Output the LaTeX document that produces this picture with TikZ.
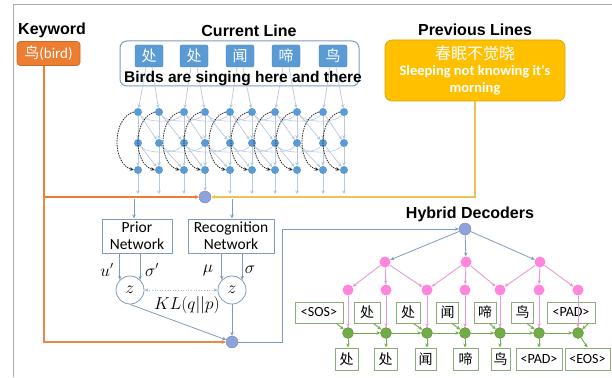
\documentclass[tikz,border=0pt]{standalone}
\usepackage{fontspec}
\setmainfont{Liberation Sans}
\newfontfamily\calfont{Carlito}
\newfontfamily\cjk{Noto Sans CJK SC}
\usetikzlibrary{arrows.meta,calc}
\definecolor{nodeblue}{HTML}{5B9BD5}
\definecolor{lightln}{HTML}{B7C9DD}
\definecolor{orangeK}{HTML}{ED7D31}
\definecolor{goldbox}{HTML}{FFC000}
\definecolor{goldln}{HTML}{EDC252}
\definecolor{lav}{HTML}{8FA2DA}
\definecolor{steel}{HTML}{7F9BBB}
\definecolor{pinkn}{HTML}{FF85DD}
\definecolor{pinkln}{HTML}{E89BD0}
\definecolor{greenn}{HTML}{70AD47}
\definecolor{greenbox}{HTML}{8FAA7C}
\definecolor{framec}{HTML}{AAAAAA}
\tikzset{
  titletext/.style={font=\bfseries\fontsize{16}{18}\selectfont},
  bnode/.style={circle,fill=nodeblue,inner sep=0pt,minimum size=8pt},
  mixnode/.style={circle,fill=lav,draw=lav!80!black,line width=0.3pt,inner sep=0pt,minimum size=12pt},
  pnode/.style={circle,fill=pinkn,inner sep=0pt,minimum size=11pt},
  gnode/.style={circle,fill=greenn,draw=greenn!70!black,line width=0.3pt,inner sep=0pt,minimum size=11pt},
  lightarr/.style={draw=lightln,line width=0.7pt,-{Stealth[length=3.5pt,width=3.5pt,fill=nodeblue!80]}},
  lightln/.style={draw=lightln,line width=0.6pt},
  dasharc/.style={draw=black!85,line width=0.8pt,dashed,dash pattern=on 1.5pt off 1pt,-{Stealth[length=4pt,width=3.5pt]}},
  charbox/.style={fill=nodeblue,draw=nodeblue!80!black,line width=0.4pt,rounded corners=2pt,minimum width=28pt,minimum height=22pt,inner sep=0pt,text=white,font=\cjk\fontsize{15}{16}\selectfont},
  netbox/.style={draw=steel,line width=1pt,fill=white,align=center,font=\calfont\fontsize{15.5}{17}\selectfont,inner sep=0pt},
  steelarr/.style={draw=steel,line width=0.8pt,-{Stealth[length=4pt,width=3.5pt]}},
  zcirc/.style={circle,draw=steel,line width=0.8pt,minimum size=28pt,inner sep=0pt,font=\fontsize{16}{16}\selectfont},
  tokbox/.style={draw=greenbox,line width=1pt,fill=white,minimum height=21pt,inner sep=0pt,font=\calfont\fontsize{14}{15}\selectfont},
  cjktok/.style={tokbox,font=\cjk\fontsize{14}{15}\selectfont},
  pinkarr/.style={draw=pinkln,line width=0.9pt,-{Stealth[length=4pt,width=3.5pt]}},
  greenarr/.style={draw=greenn,line width=0.9pt,-{Stealth[length=4pt,width=3.5pt]}},
}
\begin{document}
\begin{tikzpicture}[x=1pt,y=-1pt]
\useasboundingbox (0,0) rectangle (612,377);
% frame
\draw[framec,line width=1pt] (13,377) -- (13,5) -- (612,5);

% titles
\node[titletext] (kwt) at (52,30) {Keyword};
\node[titletext] (clt) at (249,31) {Current Line};
\node[titletext] (plt) at (475,30) {Previous Lines};
\node[titletext] (hdt) at (470,214) {Hybrid Decoders};

% keyword box
\node[fill=orangeK,draw=orangeK!85!black,line width=0.6pt,rounded corners=3pt,minimum width=63pt,minimum height=24pt,inner sep=0pt,text=white,font=\calfont\fontsize{15}{16}\selectfont] (kw) at (48.5,53.5) {{\cjk 鸟}(bird)};

% current line box
\node[draw=steel,line width=1pt,rounded corners=7pt,minimum width=239pt,minimum height=45pt,inner sep=0pt] (cl) at (239.5,63.5) {};
\node[charbox] (c1) at (149,56) {处};
\node[charbox] (c2) at (194,56) {处};
\node[charbox] (c3) at (240,56) {闻};
\node[charbox] (c4) at (286,56) {啼};
\node[charbox] (c5) at (333,56) {鸟};

% previous lines box
\node[fill=goldbox,draw=goldbox!85!black,line width=0.6pt,rounded corners=7pt,minimum width=180pt,minimum height=61pt,inner sep=0pt] (pl) at (475,70.5) {};
\node[text=white,font=\cjk\fontsize{16}{17}\selectfont] (pl1) at (475,53) {春眠不觉晓};
\node[text=white,font=\calfont\bfseries\fontsize{14.5}{16}\selectfont] (pl2) at (475,72) {Sleeping not knowing it's};
\node[text=white,font=\calfont\bfseries\fontsize{14.5}{16}\selectfont] (pl3) at (475,89) {morning};

% network nodes
\foreach \x [count=\i] in {138,159,184,205,230,252,275,297,323,344} {
  \node[bnode] (t\i) at (\x,112) {};
  \node[bnode] (m\i) at (\x,143) {};
  \node[bnode] (b\i) at (\x,170) {};
}
% lateral arcs
\foreach \i [evaluate=\i as \j using int(\i+2)] in {1,...,8} {
  \draw[lightln] (t\i) .. controls +(8,11) and +(-8,11) .. (t\j);
  \draw[lightln] (m\i) .. controls +(8,11) and +(-8,11) .. (m\j);
}
% vertical and diagonal links
\foreach \i [evaluate=\i as \j using int(\i+1)] in {1,...,9} {
  \draw[lightarr] (t\i) -- (m\j);
  \draw[lightarr] (m\i) -- (b\j);
}
\foreach \i in {1,...,10} {
  \draw[lightarr] (t\i) -- (m\i);
  \draw[lightarr] (m\i) -- (b\i);
}
% char box to first layer
\foreach \k [evaluate=\k as \a using int(2*\k-1), evaluate=\k as \b using int(2*\k)] in {1,...,5} {
  \draw[lightarr] ($(c\k.south)+(-3,0)$) -- (t\a);
  \draw[lightarr] ($(c\k.south)+(3,0)$) -- (t\b);
}
\node[font=\bfseries\fontsize{15.5}{17}\selectfont] (birds) at (243,79) {Birds are singing here and there};
% dashed arcs
\foreach \i in {1,...,10} {
  \draw[dasharc] (t\i.west) .. controls +(-22,6) and +(-22,-6) .. (b\i.west);
}

% junction 1
\node[mixnode] (j1) at (205,197) {};
\foreach \i in {1,2,3,5,6,7,8,9,10} {
  \draw[lightarr] (b\i) -- (b\i |- 0,194);
}
\draw[lightarr] (b4) -- (j1.north);
\coordinate (kwc) at (44,197);
\draw[orangeK,line width=1.2pt,-{Stealth[length=4pt,width=4pt]}] (kw.south -| kwc) -- (kwc) -- (j1.west);
\draw[goldln,line width=1.4pt,-{Stealth[length=4pt,width=4pt]}] (pl.south) |- (j1.east);

% networks
\node[netbox,minimum width=70pt,minimum height=34pt] (prior) at (137,236) {Prior\\Network};
\node[netbox,minimum width=86pt,minimum height=34pt] (recog) at (231,236) {Recognition\\Network};
\coordinate (pa) at (134,199);
\coordinate (ra) at (232,199);
\draw[steelarr] (pa) -- (pa |- prior.north);
\draw[steelarr] (ra) -- (ra |- recog.north);

\node[zcirc] (zl) at (130,290) {$z$};
\node[zcirc] (zr) at (232,290) {$z$};
\draw[steelarr] (prior.south -| zl.135) -- (zl.135);
\draw[steelarr] (prior.south -| zl.45) -- (zl.45);
\draw[steelarr] (recog.south -| zr.135) -- (zr.135);
\draw[steelarr] (recog.south -| zr.45) -- (zr.45);
\node[font=\fontsize{16}{16}\selectfont] (lu) at (107,270) {$u'$};
\node[font=\fontsize{16}{16}\selectfont] (ls) at (152,270) {$\sigma'$};
\node[font=\fontsize{16}{16}\selectfont] (lm) at (208,270) {$\mu$};
\node[font=\fontsize{16}{16}\selectfont] (lr) at (250,270) {$\sigma$};
\draw[steel!70,line width=0.6pt,dotted,{Stealth[length=4pt,width=3.5pt]}-{Stealth[length=4pt,width=3.5pt]}] (zl.east) -- (zr.west);
\node[font=\fontsize{16}{16}\selectfont] (kl) at (187,305) {$KL(q||p)$};

\node[mixnode] (j2) at (232,342) {};
\draw[steelarr] (zl.south) -- (j2);
\draw[steelarr] (zr.south) -- (j2.north);
\draw[orangeK!80!brown!90,line width=1.2pt,-{Stealth[length=4pt,width=4pt]}] (kwc) |- (j2.west);

% hybrid decoders
\node[mixnode] (root) at (465,229) {};
\coordinate (turn) at (282,229);
\draw[steelarr] (j2.east) -| (turn) -- (root.west);

\node[pnode] (p1) at (385,262) {};
\node[pnode] (p2) at (466,262) {};
\node[pnode] (p3) at (540,262) {};
\foreach \p in {p1,p2,p3} \draw[steelarr] (root) -- (\p);

\foreach \x [count=\i] in {348,386,427,465,500,539,578} {
  \node[pnode] (q\i) at (\x,290) {};
  \node[gnode] (g\i) at (\x,333) {};
}
\draw[pinkarr] (p1) -- (q1); \draw[pinkarr] (p1) -- (q2); \draw[pinkarr] (p1) -- (q3);
\draw[pinkarr] (p2) -- (q3); \draw[pinkarr] (p2) -- (q4); \draw[pinkarr] (p2) -- (q5);
\draw[pinkarr] (p3) -- (q5); \draw[pinkarr] (p3) -- (q6); \draw[pinkarr] (p3) -- (q7);

% input tokens
\node[tokbox,minimum width=48pt] (in1) at (319,312.5) {<SOS>};
\node[cjktok,minimum width=26pt] (in2) at (367,312.5) {处};
\node[cjktok,minimum width=24pt] (in3) at (408,312.5) {处};
\node[cjktok,minimum width=22pt] (in4) at (447.5,312.5) {闻};
\node[cjktok,minimum width=22pt] (in5) at (485,312.5) {啼};
\node[cjktok,minimum width=22pt] (in6) at (522.5,312.5) {鸟};
\node[tokbox,minimum width=48pt] (in7) at (571,312.5) {<PAD>};

\foreach \i in {1,...,7} \draw[pinkarr] (q\i) -- (g\i);
\foreach \i in {1,...,7} \draw[greenarr] ($(in\i.south east)+(-7,0)$) -- (g\i);
\foreach \i [evaluate=\i as \j using int(\i+1)] in {1,...,6} \draw[greenarr] (g\i) -- (g\j);

% output tokens
\node[cjktok,minimum width=23pt,minimum height=22pt] (out1) at (346.5,359) {处};
\node[cjktok,minimum width=23pt,minimum height=22pt] (out2) at (385.5,359) {处};
\node[cjktok,minimum width=21pt,minimum height=22pt] (out3) at (425.5,359) {闻};
\node[cjktok,minimum width=25pt,minimum height=22pt] (out4) at (465.5,359) {啼};
\node[cjktok,minimum width=19pt,minimum height=22pt] (out5) at (500.5,359) {鸟};
\node[tokbox,minimum width=46pt,minimum height=22pt] (out6) at (539,359) {<PAD>};
\node[tokbox,minimum width=45pt,minimum height=22pt] (out7) at (587.5,359) {<EOS>};
\foreach \i in {1,...,6} \draw[greenarr] (g\i) -- (g\i |- out\i.north);
\draw[greenarr] (g7) -- (out7.north);
\end{tikzpicture}
\end{document}
